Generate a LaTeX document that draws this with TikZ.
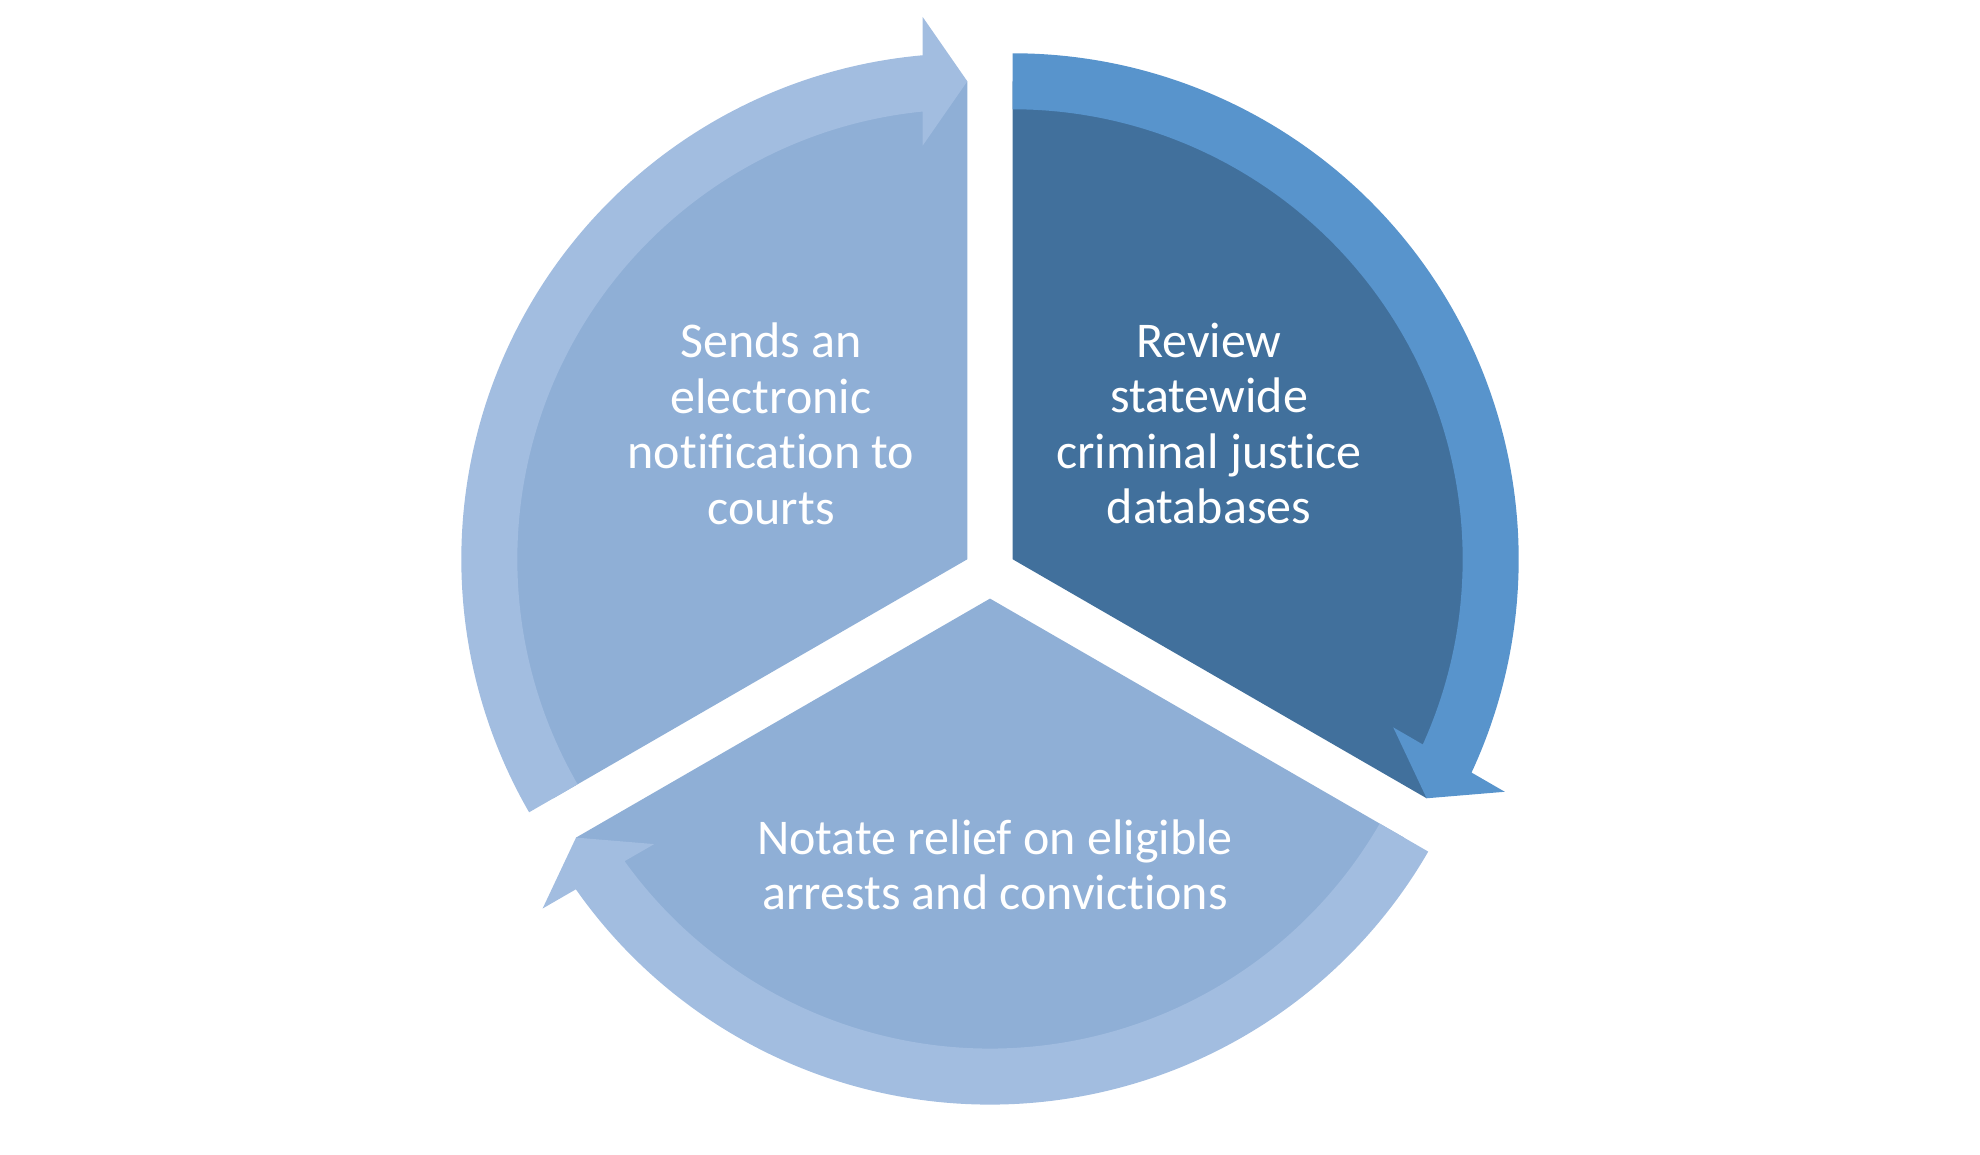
\documentclass[tikz,border=0pt]{standalone}
\usepackage{fontspec}
\setmainfont{Carlito}[Ligatures={NoCommon,NoRequired,NoContextual}]
\usetikzlibrary{calc}
\definecolor{darkwedge}{HTML}{41709C}
\definecolor{darkring}{HTML}{5894CC}
\definecolor{lightwedge}{HTML}{8FAFD6}
\definecolor{lightring}{HTML}{A2BDE0}
\begin{document}
\begin{tikzpicture}[x=1pt,y=1pt,
  segtext/.style={text=white,align=center,font=\fontsize{50}{55.5}\selectfont,inner sep=0pt}]
\useasboundingbox (0,0) rectangle (1980,1155);
\coordinate (C) at (990,582.6);
\coordinate (R0) at ($(C)+(30:26.2)$);
\coordinate (L0) at ($(C)+(150:26.2)$);
\coordinate (B0) at ($(C)+(270:26.2)$);
% wedges
\begin{scope}[shift={(R0)},rotate=-30]
  \fill[darkwedge] (0,0) -- (0:478) arc[start angle=0,end angle=120,radius=478] -- cycle;
\end{scope}
\begin{scope}[shift={(L0)},rotate=90]
  \fill[lightwedge] (0,0) -- (0:478) arc[start angle=0,end angle=120,radius=478] -- cycle;
\end{scope}
\begin{scope}[shift={(B0)},rotate=210]
  \fill[lightwedge] (0,0) -- (0:478) arc[start angle=0,end angle=120,radius=478] -- cycle;
\end{scope}
% circular arrows
\begin{scope}[shift={(R0)},rotate=-30]
  \fill[darkring] (120:506) arc[start angle=120,end angle=5.07,radius=506] -- (542.4,44.7) -- (478,0) -- (413.6,44.7) -- (5.70:450) arc[start angle=5.70,end angle=120,radius=450] -- cycle;
\end{scope}
\begin{scope}[shift={(L0)},rotate=90]
  \fill[lightring] (120:506) arc[start angle=120,end angle=5.07,radius=506] -- (542.4,44.7) -- (478,0) -- (413.6,44.7) -- (5.70:450) arc[start angle=5.70,end angle=120,radius=450] -- cycle;
\end{scope}
\begin{scope}[shift={(B0)},rotate=210]
  \fill[lightring] (120:506) arc[start angle=120,end angle=5.07,radius=506] -- (542.4,44.7) -- (478,0) -- (413.6,44.7) -- (5.70:450) arc[start angle=5.70,end angle=120,radius=450] -- cycle;
\end{scope}
% texts
\node[segtext] (review) at (1209,731.3) {Review\\statewide\\criminal justice\\databases};
\node[segtext] (sends) at (771,731.3) {Sends an\\electronic\\notification to\\courts};
\node[segtext] (notate) at (995,290) {Notate relief on eligible\\arrests and convictions};
\end{tikzpicture}
\end{document}
